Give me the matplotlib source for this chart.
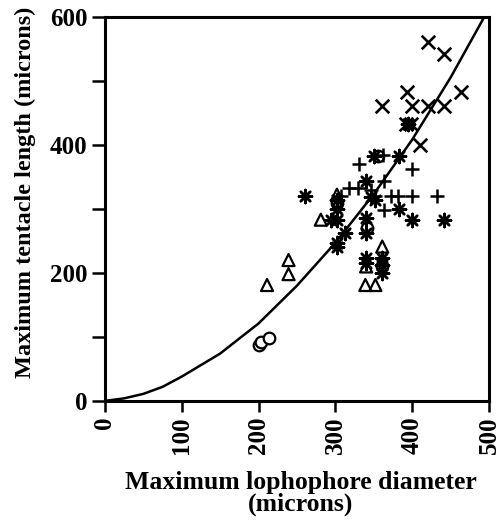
import matplotlib
matplotlib.use("Agg")
import matplotlib.pyplot as plt
from matplotlib.ticker import MultipleLocator

plt.rcParams['font.family'] = ['Liberation Serif', 'DejaVu Serif']
plt.rcParams['font.weight'] = 'bold'

# Fitted curve
curve_x = [0, 25, 50, 75, 100, 150, 200, 250, 300, 350, 400, 450, 494]
curve_y = [0, 4, 11, 22, 38, 74, 121, 180, 247, 323, 408, 505, 600]

# Species groups
cross_x = [420, 442, 393, 463, 361, 400, 421, 442, 392, 398, 410]
cross_y = [561, 541, 482, 482, 461, 461, 461, 461, 433, 433, 399]

plus_x = [331, 400, 318, 329, 307, 363, 372, 382, 400, 432, 363, 362, 346, 352]
plus_y = [370, 362, 332, 332, 320, 343, 320, 320, 320, 320, 298, 384, 330, 320]

ast_x = [261, 350, 383, 395, 340, 346, 352, 383, 400, 442, 302, 302, 302, 294,
         313, 302, 302, 340, 340, 340, 340, 361, 361, 361]
ast_y = [320, 383, 383, 433, 343, 319, 314, 300, 283, 283, 314, 299, 283, 283,
         262, 246, 240, 285, 262, 223, 215, 223, 212, 200]

tri_x = [211, 239, 239, 281, 302, 361, 339, 352, 340]
tri_y = [181, 220, 198, 283, 322, 241, 181, 181, 210]

circ_x = [200, 203, 213, 302, 341, 361, 355]
circ_y = [88, 92, 98, 309, 270, 211, 383]

fig = plt.figure(figsize=(5.0, 5.22), dpi=100)
ax = fig.add_axes([0.21, 0.232, 0.768, 0.736])

ax.plot(curve_x, curve_y, color='black', lw=1.8, zorder=1)
ax.scatter(tri_x, tri_y, marker='^', s=75, facecolors='none', edgecolors='black', linewidths=1.6, zorder=3)
ax.scatter(circ_x, circ_y, marker='o', s=70, facecolors='white', edgecolors='black', linewidths=1.6, zorder=3)
ax.scatter(ast_x, ast_y, marker=(8, 2, 0), s=90, color='black', linewidths=1.8, zorder=4)
ax.scatter(plus_x, plus_y, marker='+', s=110, color='black', linewidths=1.8, zorder=4)
ax.scatter(cross_x, cross_y, marker='x', s=95, color='black', linewidths=1.9, zorder=4)

ax.set_xlim(0, 500)
ax.set_ylim(0, 600)
ax.xaxis.set_major_locator(MultipleLocator(100))
ax.yaxis.set_major_locator(MultipleLocator(200))
ax.yaxis.set_minor_locator(MultipleLocator(100))
ax.tick_params(axis='y', which='both', direction='out', length=9.5, width=1.8, labelsize=18, pad=3)
ax.tick_params(axis='x', which='both', direction='out', length=8, width=1.8, labelsize=18, pad=3,
               labelrotation=90)
for lab in ax.get_xticklabels() + ax.get_yticklabels():
    lab.set_fontweight('bold')
for sp in ax.spines.values():
    sp.set_linewidth(2.2)

ax.set_xlabel('Maximum lophophore diameter\n(microns)', fontsize=18.5, fontweight='bold', linespacing=0.95)
ax.xaxis.set_label_coords(0.51, -0.182)
ax.set_ylabel('Maximum tentacle length (microns)', fontsize=17.5, fontweight='bold')
ax.yaxis.set_label_coords(-0.18, 0.544)

fig.savefig('out.png', dpi=100)
